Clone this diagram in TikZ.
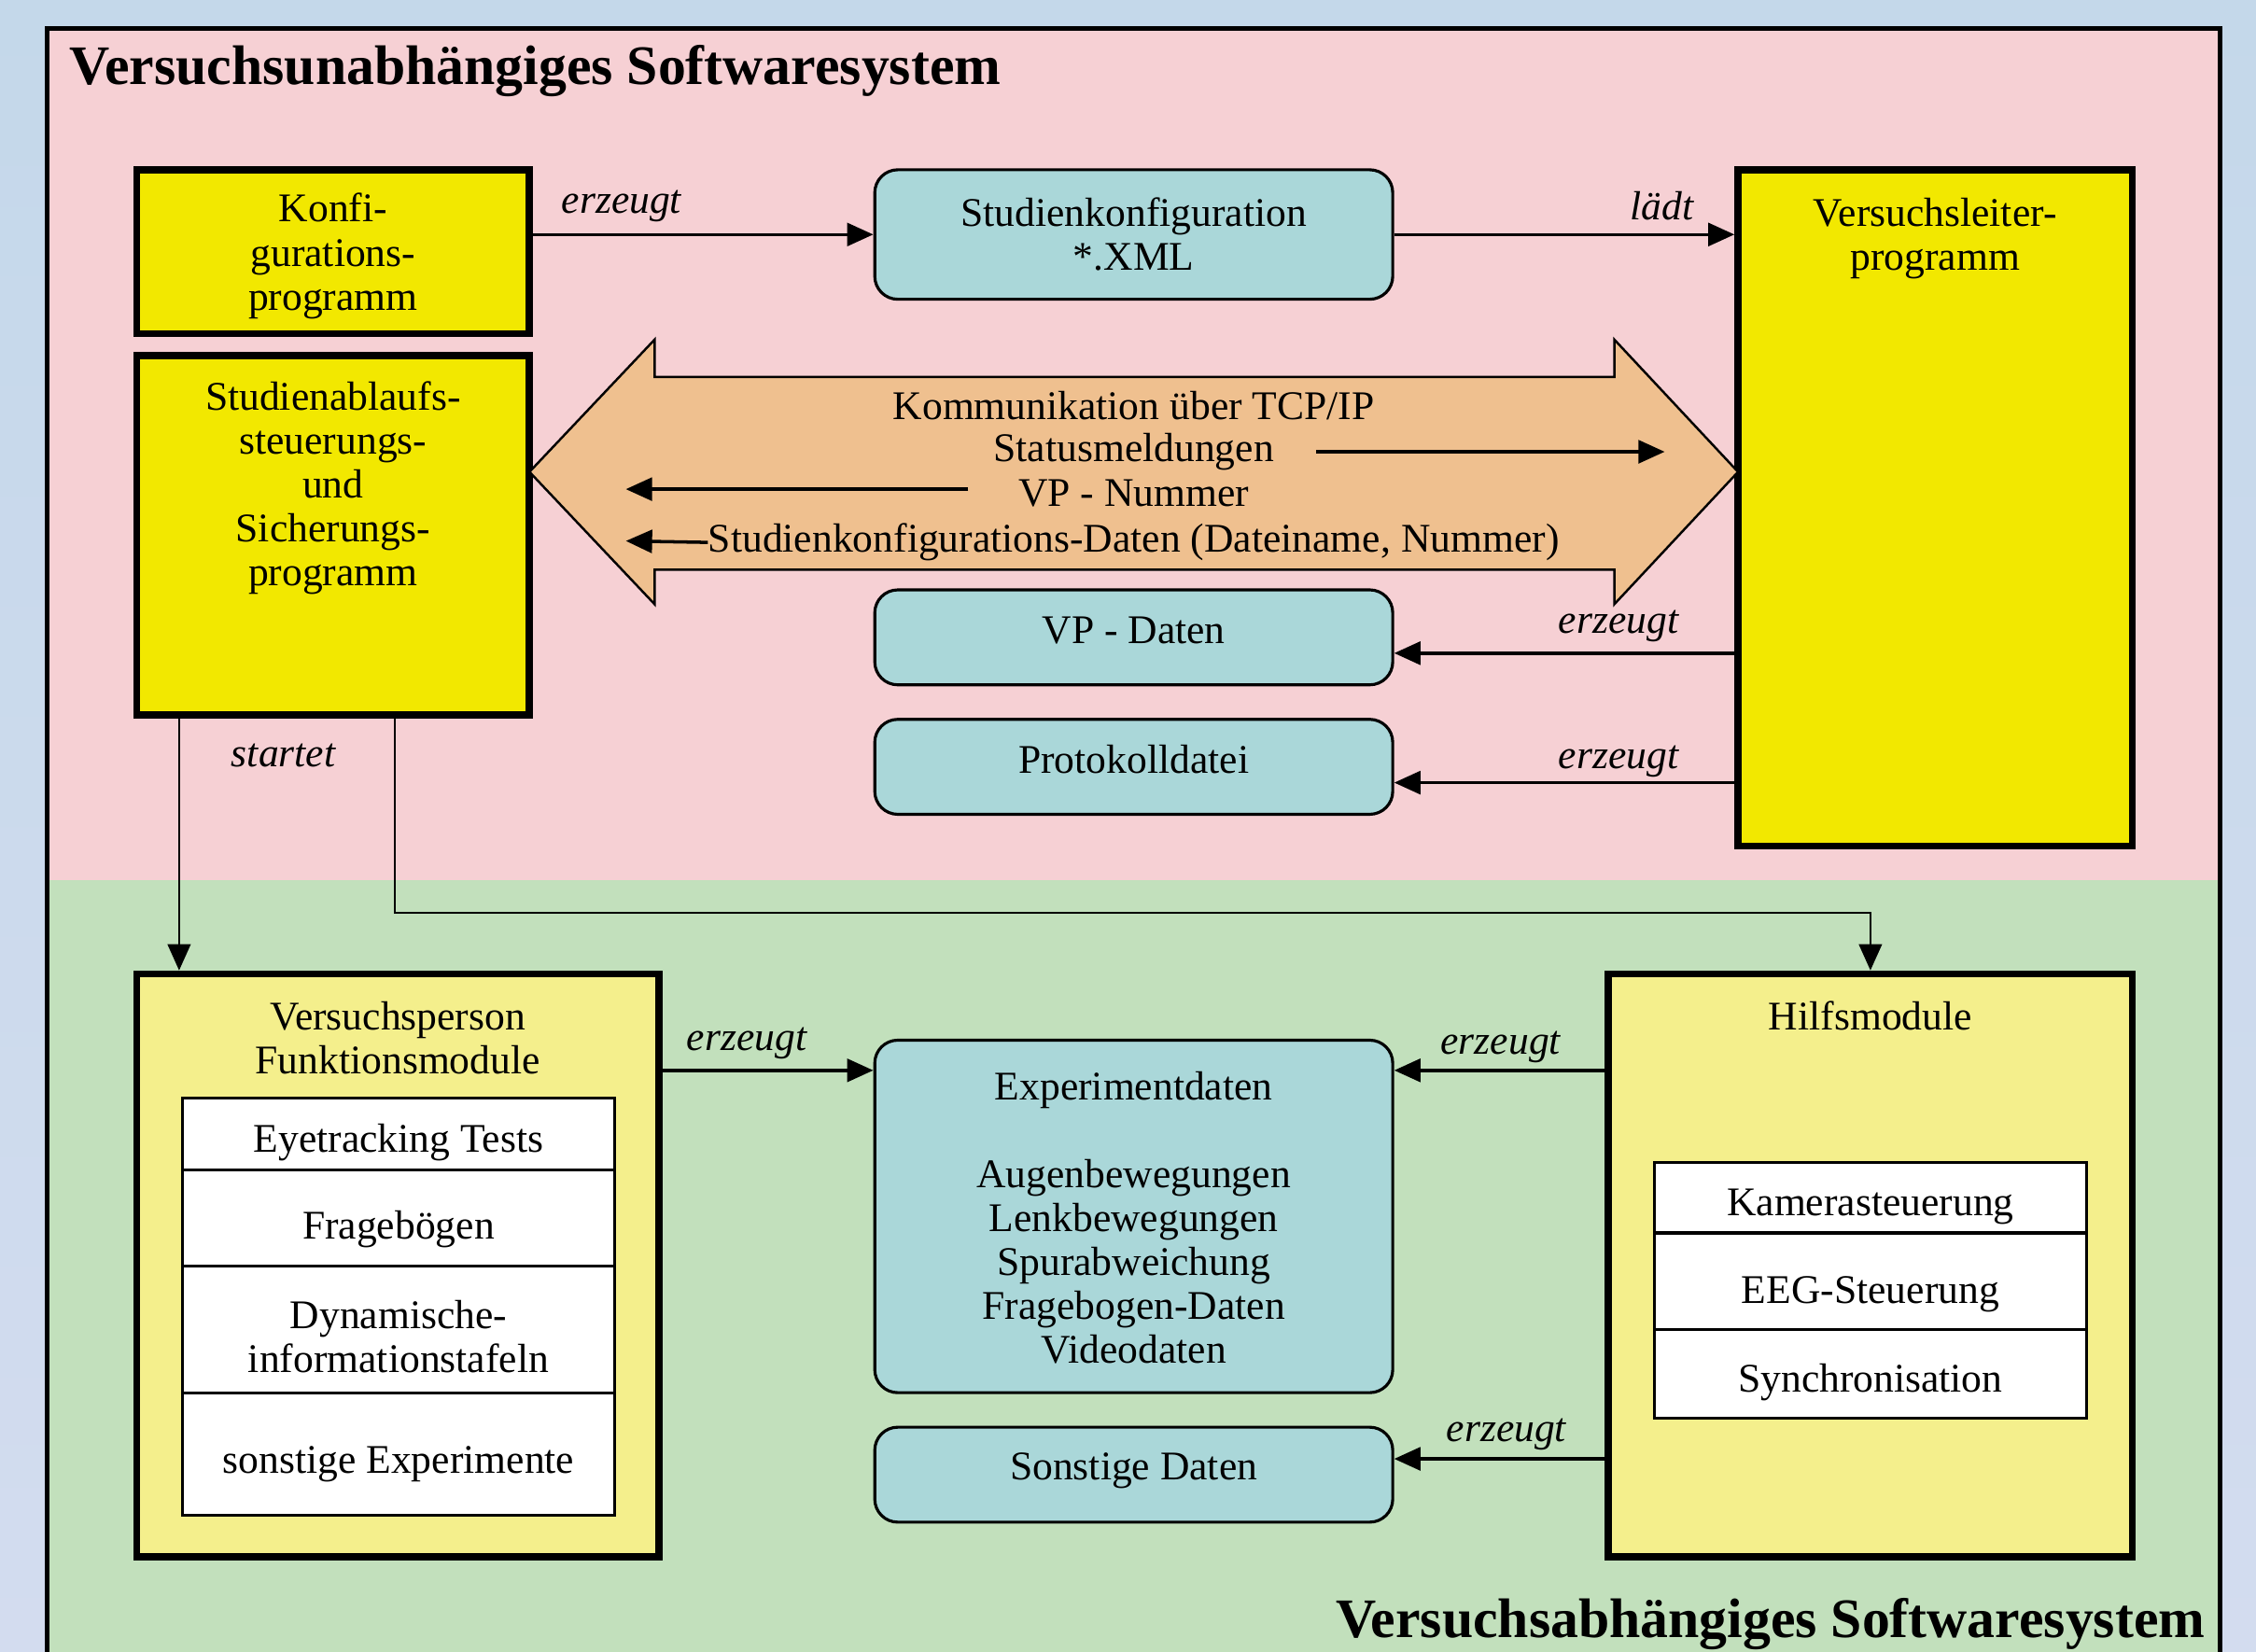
\documentclass[tikz,border=0pt]{standalone}
\usepackage{fontspec}
\setmainfont{Liberation Serif}
\usetikzlibrary{fit,calc,arrows.meta}
\definecolor{bgtop}{HTML}{C4D8EA}
\definecolor{bgbot}{HTML}{D3DCEF}
\definecolor{pinkbg}{HTML}{F6D0D4}
\definecolor{greenbg}{HTML}{C2E0BC}
\definecolor{ybright}{HTML}{F2E800}
\definecolor{ylight}{HTML}{F4EF8C}
\definecolor{tealbox}{HTML}{AAD7D9}
\definecolor{orangearr}{HTML}{EFC08F}
\begin{document}
\begin{tikzpicture}[x=0.015415cm, y=-0.015415cm,
  font=\fontsize{12.4}{13.4}\selectfont,
  ybox/.style={draw=black, line width=2.2pt, fill=ybright, inner sep=0pt},
  lybox/.style={draw=black, line width=2.2pt, fill=ylight, inner sep=0pt},
  dbox/.style={draw=black, line width=0.9pt, fill=tealbox, rounded corners=7pt, inner sep=0pt},
  wrow/.style={draw=black, line width=0.9pt, fill=white, inner sep=0pt},
  arr/.style={line width=1pt, -{Triangle[length=8pt,width=7pt]}},
  thinarr/.style={line width=0.7pt, -{Triangle[length=8pt,width=7pt]}},
  lbl/.style={font=\fontsize{12.4}{13.4}\selectfont\itshape, inner sep=1pt},
  ttl/.style={font=\fontsize{17}{20}\selectfont\bfseries, inner sep=0pt},
  txt/.style={inner sep=0pt, align=center}]
\useasboundingbox (0,0) rectangle (1568,1148);
% background and regions
\shade[top color=bgtop, bottom color=bgbot] (0,0) rectangle (1568,1148);
\fill[pinkbg] (33,20) rectangle (1543,612);
\fill[greenbg] (33,612) rectangle (1543,1150);
\draw[line width=1.4pt] (33,1152) -- (33,20) -- (1543,20) -- (1543,1152);
% titles
\node[ttl, anchor=base west] (t1) at (48,59) {Versuchsunabhängiges Softwaresystem};
\node[ttl, anchor=base east] (t2) at (1533,1138) {Versuchsabhängiges Softwaresystem};
% upper boxes
\node[ybox, fit={(95,118)(368,232)}] (konfig) {};
\node[txt] (konfigT) at ($(konfig.center)+(0,3)$) {Konfi-\\gurations-\\programm};
\node[ybox, fit={(95,247)(368,497)}] (ablauf) {};
\node[txt, anchor=north] (ablaufT) at ($(ablauf.north)+(0,20)$) {Studienablaufs-\\steuerungs-\\und\\Sicherungs-\\programm};
\node[dbox, fit={(608,118)(968,208)}] (studkonf) {};
\node[txt] (studkonfT) at (studkonf.center) {Studienkonfiguration\\{*}.XML};
\node[ybox, fit={(1208,118)(1482,588)}] (vl) {};
\node[txt, anchor=north] (vlT) at ($(vl.north)+(0,22)$) {Versuchsleiter-\\programm};
% big double arrow
\filldraw[fill=orangearr, draw=black, line width=0.7pt]
  (368,328) -- (455,236) -- (455,262) -- (1122,262) -- (1122,236) -- (1208,328)
  -- (1122,420) -- (1122,396) -- (455,396) -- (455,420) -- cycle;
\node (komm) at (788,282) {Kommunikation über TCP/IP};
\node (status) at (788,314) {Statusmeldungen};
\node (vpnr) at (788,343) {VP - Nummer};
\node (skd) at (788,377) {Studienkonfigurations-Daten (Dateiname, Nummer)};
\coordinate (stA) at (915,314);
\coordinate (stB) at (1157,314);
\draw[arr] (stA) -- (stB);
\coordinate (vnA) at (673,340);
\coordinate (vnB) at (435,340);
\draw[arr] (vnA) -- (vnB);
\coordinate (skB) at (435,376);
\draw[arr] (skd.west -| 492,0) -- (skB);
% data boxes upper
\node[dbox, fit={(608,410)(968,476)}] (vpdaten) {};
\node[txt] (vpdatenT) at ($(vpdaten.center)+(0,-5)$) {VP - Daten};
\node[dbox, fit={(608,500)(968,566)}] (proto) {};
\node[txt] (protoT) at ($(proto.center)+(0,-5)$) {Protokolldatei};
% upper connectors
\draw[arr] (konfig.east |- studkonf.west) -- (studkonf.west);
\node[lbl] (l1) at (432,143) {erzeugt};
\draw[arr] (studkonf.east) -- (studkonf.east -| vl.west);
\node[lbl] (l2) at (1155,143) {lädt};
\coordinate (vpin) at ($(vpdaten.east)+(0,11)$);
\draw[arr] (vpin -| vl.west) -- (vpin);
\node[lbl] (l3) at (1125,435) {erzeugt};
\coordinate (prin) at ($(proto.east)+(0,11)$);
\draw[arr] (prin -| vl.west) -- (prin);
\node[lbl] (l4) at (1125,529) {erzeugt};
% lower boxes
\node[lybox, fit={(95,677)(458,1082)}] (vperson) {};
\node[txt, anchor=north] (vpersonT) at ($(vperson.north)+(0,21)$) {Versuchsperson\\Funktionsmodule};
\node[wrow, fit={(127,763)(427,813)}] (r1) {};
\node[txt] (r1T) at ($(r1.center)+(0,6)$) {Eyetracking Tests};
\node[wrow, fit={(127,813)(427,880)}] (r2) {};
\node[txt] (r2T) at ($(r2.center)+(0,8)$) {Fragebögen};
\node[wrow, fit={(127,880)(427,968)}] (r3) {};
\node[txt] (r3T) at ($(r3.center)+(0,5)$) {Dynamische-\\informationstafeln};
\node[wrow, fit={(127,968)(427,1053)}] (r4) {};
\node[txt] (r4T) at ($(r4.center)+(0,7)$) {sonstige Experimente};
\node[dbox, fit={(608,723)(968,968)}] (expd) {};
\node[txt] (expdT) at ($(expd.center)+(0,1)$) {Experimentdaten\\[13.4pt]Augenbewegungen\\Lenkbewegungen\\Spurabweichung\\Fragebogen-Daten\\Videodaten};
\node[dbox, fit={(608,992)(968,1058)}] (sonst) {};
\node[txt] (sonstT) at ($(sonst.center)+(0,-3)$) {Sonstige Daten};
\node[lybox, fit={(1118,677)(1482,1082)}] (hilfs) {};
\node[txt, anchor=north] (hilfsT) at ($(hilfs.north)+(0,21)$) {Hilfsmodule};
\node[wrow, fit={(1150,808)(1450,857)}] (h1) {};
\node[txt] (h1T) at ($(h1.center)+(0,6)$) {Kamerasteuerung};
\node[wrow, fit={(1150,857)(1450,924)}] (h2) {};
\node[txt] (h2T) at ($(h2.center)+(0,9)$) {EEG-Steuerung};
\node[wrow, fit={(1150,924)(1450,986)}] (h3) {};
\node[txt] (h3T) at ($(h3.center)+(0,6)$) {Synchronisation};
% startet connectors
\coordinate (s1) at ($(ablauf.south west)+(32,0)$);
\draw[thinarr] (s1) -- (s1 |- vperson.north);
\coordinate (s2) at ($(ablauf.south west)+(182,0)$);
\draw[thinarr] (s2) -- ++(0,135) -| (hilfs.north);
\node[lbl] (l5) at (197,525) {startet};
% lower connectors
\coordinate (e1) at ($(expd.north west)+(0,22)$);
\draw[arr] (e1 -| vperson.east) -- (e1);
\node[lbl] (l6) at (519,725) {erzeugt};
\coordinate (e2) at ($(expd.north east)+(0,22)$);
\draw[arr] (e2 -| hilfs.west) -- (e2);
\node[lbl] (l7) at (1043,728) {erzeugt};
\coordinate (so) at ($(sonst.east)+(0,-11)$);
\draw[arr] (so -| hilfs.west) -- (so);
\node[lbl] (l8) at (1047,997) {erzeugt};
\end{tikzpicture}
\end{document}
